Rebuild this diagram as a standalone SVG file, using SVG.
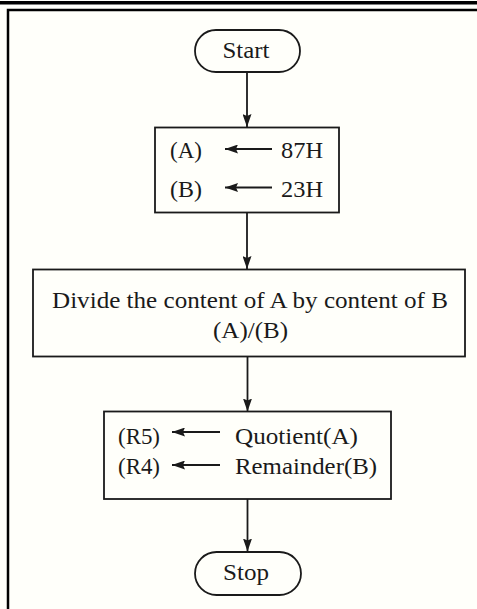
<svg xmlns="http://www.w3.org/2000/svg" width="477" height="609" viewBox="0 0 477 609">
  <defs>
    <marker id="arrow" viewBox="0 0 13 9" refX="13" refY="4.5" markerWidth="13" markerHeight="9" markerUnits="userSpaceOnUse" orient="auto">
      <path d="M0,0 L13,4.5 L0,9 L2,4.5 Z" fill="#1a1a1a"/>
    </marker>
    <style>
      .shape { fill: #fffffa; stroke: #1a1a1a; stroke-width: 1.8; }
      .link { fill: none; stroke: #1a1a1a; stroke-width: 1.8; }
      .bar { fill: none; stroke: #1a1a1a; stroke-width: 2.2; }
      .txt { font-family: "Liberation Serif", "Times New Roman", serif; font-size: 22.5px; fill: #1a1a1a; }
    </style>
  </defs>

  <!-- page -->
  <rect x="0" y="0" width="477" height="609" fill="#fffffa"/>
  <rect x="0" y="1" width="477" height="3.5" fill="#000"/>
  <path d="M8,609 V10 H477" fill="none" stroke="#000" stroke-width="2.5"/>

  <g id="connectors">
    <line class="link" x1="247" y1="72" x2="247" y2="127" marker-end="url(#arrow)"/>
    <line class="link" x1="247" y1="213" x2="247" y2="269" marker-end="url(#arrow)"/>
    <line class="link" x1="247.5" y1="357" x2="247.5" y2="411.5" marker-end="url(#arrow)"/>
    <line class="link" x1="247.5" y1="499" x2="247.5" y2="551.5" marker-end="url(#arrow)"/>
  </g>

  <g id="start">
    <rect class="shape" x="195" y="30" width="105" height="42" rx="21" ry="21"/>
    <text class="txt" x="246" y="57.5" text-anchor="middle" textLength="47" lengthAdjust="spacingAndGlyphs">Start</text>
  </g>

  <g id="load">
    <rect class="shape" x="155" y="127.5" width="184" height="85"/>
    <text class="txt" x="170" y="157.5" textLength="32" lengthAdjust="spacingAndGlyphs">(A)</text>
    <line class="bar" x1="272" y1="149" x2="225" y2="149" marker-end="url(#arrow)"/>
    <text class="txt" x="281" y="157.5" textLength="42" lengthAdjust="spacingAndGlyphs">87H</text>
    <text class="txt" x="170" y="196.5" textLength="32" lengthAdjust="spacingAndGlyphs">(B)</text>
    <line class="bar" x1="272" y1="187.5" x2="225" y2="187.5" marker-end="url(#arrow)"/>
    <text class="txt" x="281" y="196.5" textLength="42" lengthAdjust="spacingAndGlyphs">23H</text>
  </g>

  <g id="divide">
    <rect class="shape" x="33" y="269.5" width="432" height="87"/>
    <text class="txt" x="52" y="307.5" textLength="396" lengthAdjust="spacingAndGlyphs">Divide the content of A by content of B</text>
    <text class="txt" x="250.5" y="337.5" text-anchor="middle" textLength="75" lengthAdjust="spacingAndGlyphs">(A)/(B)</text>
  </g>

  <g id="store">
    <rect class="shape" x="104" y="411.5" width="287" height="87.5"/>
    <text class="txt" x="118" y="444" textLength="42" lengthAdjust="spacingAndGlyphs">(R5)</text>
    <line class="bar" x1="220" y1="432" x2="172" y2="432" marker-end="url(#arrow)"/>
    <text class="txt" x="235" y="444" textLength="123" lengthAdjust="spacingAndGlyphs">Quotient(A)</text>
    <text class="txt" x="118" y="473.5" textLength="42" lengthAdjust="spacingAndGlyphs">(R4)</text>
    <line class="bar" x1="220" y1="465" x2="172" y2="465" marker-end="url(#arrow)"/>
    <text class="txt" x="235" y="473.5" textLength="142" lengthAdjust="spacingAndGlyphs">Remainder(B)</text>
  </g>

  <g id="stop">
    <rect class="shape" x="195" y="552" width="106" height="43" rx="21.5" ry="21.5"/>
    <text class="txt" x="246" y="580" text-anchor="middle" textLength="46" lengthAdjust="spacingAndGlyphs">Stop</text>
  </g>
</svg>
